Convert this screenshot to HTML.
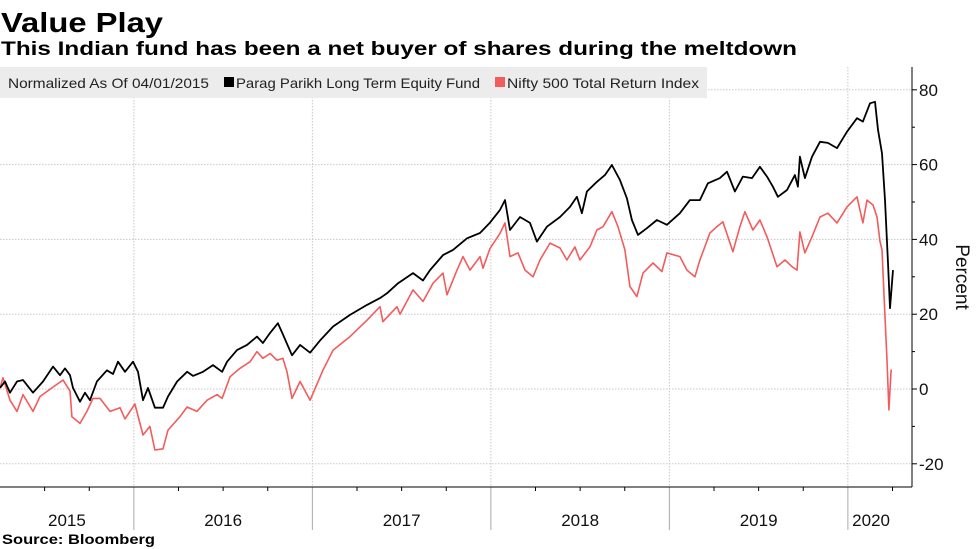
<!DOCTYPE html>
<html><head><meta charset="utf-8"><style>
html,body{margin:0;padding:0;background:#fff;}
svg{display:block;font-family:"Liberation Sans",sans-serif;}
</style></head><body>
<svg id="chart" width="977" height="549" viewBox="0 0 977 549">
<text x="1" y="32" font-size="28" font-weight="bold" textLength="162" lengthAdjust="spacingAndGlyphs">Value Play</text>
<text x="1" y="55" font-size="19" font-weight="bold" textLength="796" lengthAdjust="spacingAndGlyphs">This Indian fund has been a net buyer of shares during the meltdown</text>
<g id="grid"></g>
<g>
<rect x="0" y="67" width="707" height="31" fill="#ececec"/>
<text x="8" y="88" font-size="14" fill="#222" textLength="201" lengthAdjust="spacingAndGlyphs">Normalized As Of 04/01/2015</text>
<rect x="224" y="77" width="10" height="10" fill="#000"/>
<text x="236" y="88" font-size="14" fill="#222" textLength="244" lengthAdjust="spacingAndGlyphs">Parag Parikh Long Term Equity Fund</text>
<rect x="495" y="77" width="10" height="10" fill="#f25c5c"/>
<text x="507" y="88" font-size="14" fill="#222" textLength="192" lengthAdjust="spacingAndGlyphs">Nifty 500 Total Return Index</text>
</g>
<g id="axes"></g>
<g id="series"></g>
<text transform="translate(956,277) rotate(90)" font-size="19" text-anchor="middle" fill="#111">Percent</text>
<text x="2" y="544" font-size="14" font-weight="bold" textLength="153" lengthAdjust="spacingAndGlyphs">Source: Bloomberg</text>
</svg>
<script>
const yTicks = [80, 60, 40, 20, 0, -20];
const yearLabels = ["2015", "2016", "2017", "2018", "2019", "2020"];
const yearStarts = [2015.25, 2016, 2017, 2018, 2019, 2020];
const axisEnd = 2020.26;
const fundDates = [2015.250,2015.278,2015.306,2015.345,2015.379,2015.435,2015.491,2015.547,2015.586,2015.614,2015.642,2015.659,2015.698,2015.726,2015.754,2015.793,2015.849,2015.883,2015.911,2015.950,2015.995,2016.023,2016.051,2016.079,2016.118,2016.163,2016.191,2016.242,2016.298,2016.331,2016.387,2016.443,2016.494,2016.522,2016.578,2016.634,2016.690,2016.723,2016.763,2016.807,2016.835,2016.886,2016.931,2016.987,2017.043,2017.116,2017.211,2017.306,2017.379,2017.418,2017.480,2017.564,2017.620,2017.659,2017.732,2017.788,2017.866,2017.939,2017.995,2018.051,2018.079,2018.107,2018.163,2018.219,2018.258,2018.314,2018.387,2018.443,2018.482,2018.510,2018.538,2018.594,2018.639,2018.678,2018.723,2018.762,2018.790,2018.824,2018.874,2018.930,2018.986,2019.059,2019.115,2019.171,2019.216,2019.283,2019.323,2019.367,2019.412,2019.463,2019.507,2019.547,2019.580,2019.608,2019.659,2019.703,2019.720,2019.731,2019.759,2019.799,2019.844,2019.888,2019.939,2019.995,2020.051,2020.084,2020.124,2020.152,2020.169,2020.191,2020.208,2020.225,2020.236,2020.253];
const fundValues = [0.3,2,-1,2,2.4,-1,2,6,3.7,5.5,3.7,0.3,-3.4,-1,-3,2,5,4,7.3,4.6,7.3,4.6,-3,0.3,-5,-5,-2,2,4.6,3.5,4.6,6.4,4.6,7.3,10.4,11.8,14,12.3,15,17.6,14.6,9,11.8,9.7,13,16.7,19.8,22.5,24.3,25.6,28.3,31,29,31.8,35.8,37.2,40.3,41.7,44.5,47.9,50.5,42.5,46,44.4,39.4,43.4,46,48.7,51.4,47,52.8,55.4,57.2,59.9,55.9,51,45.2,41.2,43,45.2,43.9,47,50.5,50.5,55,56.4,58.1,52.8,56.8,56.4,59.4,56.8,54.1,51.4,53.2,57.2,54.1,62.1,56.4,62.1,66.1,65.8,64.4,68.8,72.4,71.5,76.4,76.8,69.3,63,50.5,33.7,21.6,31.8];
const niftyDates = [2015.250,2015.267,2015.306,2015.345,2015.379,2015.435,2015.474,2015.547,2015.603,2015.642,2015.653,2015.698,2015.737,2015.771,2015.810,2015.866,2015.922,2015.950,2016.006,2016.051,2016.090,2016.118,2016.163,2016.191,2016.258,2016.298,2016.353,2016.410,2016.466,2016.494,2016.539,2016.594,2016.651,2016.690,2016.723,2016.763,2016.802,2016.835,2016.858,2016.886,2016.931,2016.987,2017.059,2017.116,2017.211,2017.306,2017.379,2017.395,2017.474,2017.491,2017.564,2017.620,2017.676,2017.732,2017.754,2017.810,2017.844,2017.883,2017.939,2017.956,2017.995,2018.051,2018.079,2018.107,2018.152,2018.191,2018.236,2018.275,2018.331,2018.387,2018.426,2018.471,2018.499,2018.555,2018.594,2018.628,2018.678,2018.712,2018.751,2018.779,2018.818,2018.852,2018.908,2018.958,2018.986,2019.059,2019.098,2019.143,2019.171,2019.227,2019.266,2019.300,2019.356,2019.395,2019.423,2019.468,2019.507,2019.547,2019.603,2019.648,2019.687,2019.715,2019.731,2019.759,2019.799,2019.844,2019.888,2019.939,2019.995,2020.051,2020.084,2020.107,2020.141,2020.163,2020.180,2020.191,2020.208,2020.219,2020.230,2020.242,2020.247];
const niftyValues = [0.3,3,-3,-6,-1.5,-6,-2,0.5,2.4,-0.5,-7.4,-9.2,-6,-2.5,-2.5,-6,-5,-8,-4,-12.3,-10,-16.3,-16,-11,-7.4,-4.8,-6,-3,-1.5,-2.5,3.3,5.5,7.3,10,8.2,9.5,7.7,8.2,4.6,-2.5,2,-3,5,10.4,14,18.4,22,18,22,20,26.5,23.4,28.3,31,25.2,31.8,35.4,31.8,35.4,32.3,37.6,41.6,44.4,35.4,36.4,31.8,30,34.5,39,37.7,34.5,38,34.5,38,42.5,43.4,47.4,43.4,37.2,27.4,24.7,31,33.7,31.4,36.4,35.4,31.8,30,34.5,41.7,43.4,44.7,36.7,43.4,47.4,42.5,45.2,40.7,32.7,34.5,32.7,31.8,42,36.4,40.7,46,47,44.4,48.7,51.4,44.4,50.5,49.2,46,39.4,37.2,19.3,7.7,-5.6,5,5];

const NS = "http://www.w3.org/2000/svg";
const xPx = t => (t - 2015.25) * 178.5;
const yPx = v => 389 - v * 3.74;
const plotTop = 67, plotBottom = 487, plotRight = 912;
function mk(tag, attrs, parent) {
  const e = document.createElementNS(NS, tag);
  for (const k in attrs) e.setAttribute(k, attrs[k]);
  parent.appendChild(e);
  return e;
}
const grid = document.getElementById('grid');
const axes = document.getElementById('axes');
const series = document.getElementById('series');

yTicks.forEach(v => {
  const y = yPx(v);
  const gl = mk('line', {x1: 0, x2: plotRight, y1: y, y2: y, stroke: '#c8c8c8', 'stroke-dasharray': '1.5 1.5', 'stroke-width': 1}, grid);
  
  
  const tk = mk('line', {x1: plotRight, x2: plotRight + 5, y1: y, y2: y, stroke: '#000'}, axes);
  
  
  const lb = mk('text', {x: plotRight + 7, y: y + 6, 'font-size': 17, fill: '#111'}, axes);
  lb.textContent = v;
  
  
});
for (let v = -10; v <= 70; v += 20) {
  const y = yPx(v);
  const mt = mk('line', {x1: plotRight, x2: plotRight + 3, y1: y, y2: y, stroke: '#000'}, axes);
  
  
}
yearStarts.forEach((t, i) => {
  const x = xPx(t);
  if (i > 0) {
    const vg = mk('line', {x1: x, x2: x, y1: plotTop, y2: plotBottom, stroke: '#c8c8c8', 'stroke-dasharray': '1.5 1.5'}, grid);
    
    
    const sep = mk('line', {x1: x, x2: x, y1: plotBottom, y2: 530, stroke: '#aaa'}, axes);
    
    
  }
  const end = i < yearStarts.length - 1 ? yearStarts[i + 1] : axisEnd;
  const lb = mk('text', {x: (x + xPx(end)) / 2, y: 526, 'font-size': 17, 'text-anchor': 'middle', fill: '#111'}, axes);
  lb.textContent = yearLabels[i];
  
  
});
for (let t = 2015.5; t < axisEnd; t += 0.25) {
  if (Math.abs(t - Math.round(t)) < 0.01) continue;
  const x = xPx(t);
  const qt = mk('line', {x1: x, x2: x, y1: plotBottom, y2: plotBottom + 4, stroke: '#000'}, axes);
  
  
}
const xa = mk('line', {x1: 0, x2: plotRight, y1: plotBottom, y2: plotBottom, stroke: '#000'}, axes);


const ya = mk('line', {x1: plotRight, x2: plotRight, y1: plotTop, y2: plotBottom, stroke: '#000'}, axes);



function pathFor(dates, vals) {
  return dates.map((t, i) => (i ? 'L' : 'M') + xPx(t).toFixed(1) + ' ' + yPx(vals[i]).toFixed(1)).join(' ');
}
const nl = mk('path', {d: pathFor(niftyDates, niftyValues), fill: 'none', stroke: '#f25c5c', 'stroke-width': 1.6, 'stroke-linejoin': 'round'}, series);


const fl = mk('path', {d: pathFor(fundDates, fundValues), fill: 'none', stroke: '#000', 'stroke-width': 1.8, 'stroke-linejoin': 'round'}, series);


</script>
</body></html>
